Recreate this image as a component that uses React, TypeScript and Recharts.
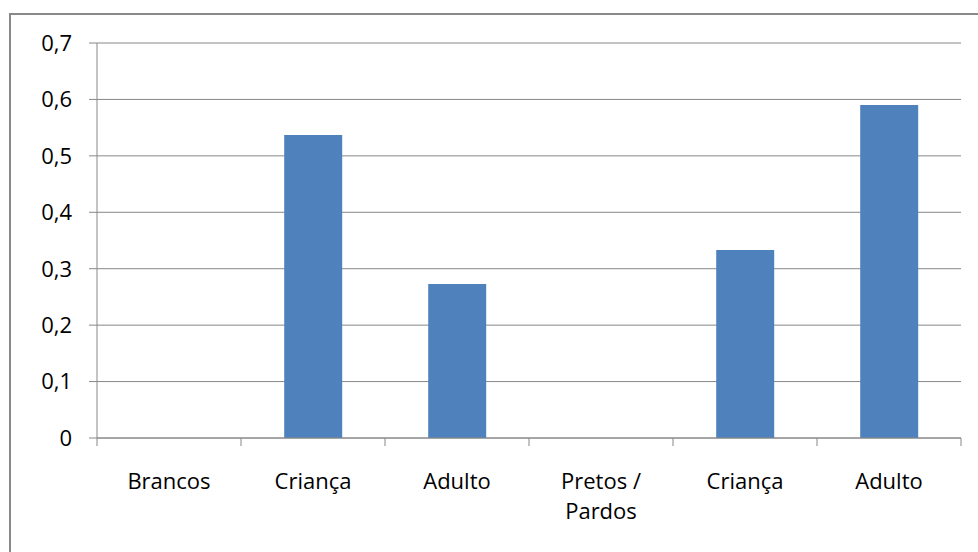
import React from "react";
import { BarChart, Bar, XAxis, YAxis, CartesianGrid } from "recharts";

const categories = ["Brancos", "Criança", "Adulto", "Pretos / Pardos", "Criança", "Adulto"];
const values: (number | null)[] = [null, 0.537, 0.273, null, 0.333, 0.59];
const yTicks = [0, 0.1, 0.2, 0.3, 0.4, 0.5, 0.6, 0.7];

const data = categories.map((c, i) => ({ name: c, value: values[i] }));

const FONT = "'Open Sans', sans-serif";
const GRID = "#888888";
const X_TICK_SIZE = 8;
const X_TICK_MARGIN = 27;

function splitLabel(s: string): string[] {
  const idx = s.indexOf(" / ");
  if (idx >= 0) return [s.slice(0, idx) + " /", s.slice(idx + 3)];
  return [s];
}

const XTick = (props: any) => {
  const { x, y, payload, index, visibleTicksCount } = props;
  const off = payload && typeof payload.offset === "number" && payload.offset > 0 ? payload.offset : 72;
  const axisY = y - X_TICK_SIZE - X_TICK_MARGIN;
  const lines = splitLabel(String(payload.value));
  const last = index === (visibleTicksCount ?? categories.length) - 1;
  return (
    <g>
      <line x1={x - off} x2={x - off} y1={axisY} y2={axisY + X_TICK_SIZE} stroke={GRID} strokeWidth={1} />
      {last && (
        <line x1={x + off} x2={x + off} y1={axisY} y2={axisY + X_TICK_SIZE} stroke={GRID} strokeWidth={1} />
      )}
      <text x={x} y={y} textAnchor="middle" fontFamily={FONT} fontSize={22} fill="#000">
        {lines.map((l, i) => (
          <tspan key={i} x={x} dy={i === 0 ? 16 : 30}>
            {l}
          </tspan>
        ))}
      </text>
    </g>
  );
};

export default function App() {
  return (
    <div style={{ position: "absolute", left: 0, top: 0, width: 978, height: 552, overflow: "hidden", background: "#fff" }}>
      <style>{"body{overflow:hidden}"}</style>
      <div
        style={{
          position: "absolute",
          left: 9,
          top: 13,
          width: 971,
          height: 560,
          border: "2px solid #898989",
          boxSizing: "border-box",
        }}
      />
      <div style={{ position: "absolute", left: 0, top: 0 }}>
        <BarChart
          width={978}
          height={552}
          data={data}
          margin={{ top: 43, right: 17, bottom: 0, left: 0 }}
          barCategoryGap="30%"
        >
          <CartesianGrid vertical={false} stroke={GRID} strokeWidth={1} />
          <XAxis
            dataKey="name"
            height={114}
            axisLine={{ stroke: GRID, strokeWidth: 1 }}
            tickLine={false}
            tickSize={X_TICK_SIZE}
            tickMargin={X_TICK_MARGIN}
            interval={0}
            tick={<XTick />}
          />
          <YAxis
            width={97}
            domain={[0, 0.7]}
            ticks={yTicks}
            interval={0}
            axisLine={{ stroke: GRID, strokeWidth: 1 }}
            tickLine={{ stroke: GRID, strokeWidth: 1 }}
            tickSize={8}
            tickMargin={17}
            tickFormatter={(v: number) => String(v).replace(".", ",")}
            tick={{ fontFamily: FONT, fontSize: 22, fill: "#000" }}
          />
          <Bar dataKey="value" fill="#4F81BD" isAnimationActive={false} />
        </BarChart>
      </div>
    </div>
  );
}
